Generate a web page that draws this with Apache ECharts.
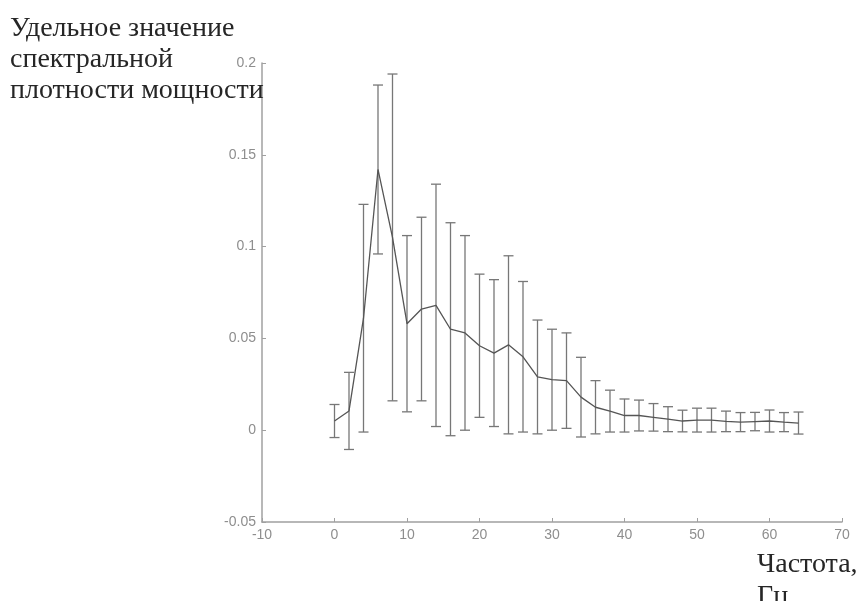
<!DOCTYPE html>
<html>
<head>
<meta charset="utf-8">
<script src="https://cdn.jsdelivr.net/npm/echarts@6/dist/echarts.min.js"></script>
<style>html,body{margin:0;padding:0;background:#fff}#c{width:859px;height:601px}</style>
</head>
<body>
<div id="c"></div>
<script>
var freq = [0,2,4,6,8,10,12,14,16,18,20,22,24,26,28,30,32,34,36,38,40,42,44,46,48,50,52,54,56,58,60,62,64];
var meanVal = [0.005,0.0105,0.061,0.142,0.105,0.058,0.066,0.068,0.055,0.053,0.046,0.042,0.0465,0.040,0.029,0.0275,0.027,0.018,0.0125,0.0104,0.008,0.008,0.007,0.006,0.005,0.0055,0.0055,0.0048,0.0044,0.0047,0.005,0.0044,0.0039];
var errVal = [0.009,0.021,0.062,0.046,0.089,0.048,0.050,0.066,0.058,0.053,0.039,0.040,0.0485,0.041,0.031,0.0275,0.026,0.0217,0.0145,0.0114,0.009,0.0084,0.0075,0.0068,0.0059,0.0065,0.0065,0.0056,0.0052,0.005,0.006,0.0052,0.006];
var yTicks = ['-0.05','0','0.05','0.1','0.15','0.2'];
var yTitle = 'Удельное значение\nспектральной\nплотности мощности';
var xTitle = 'Частота,\nГц';

var lineData = freq.map(function(f,i){return [f, meanVal[i]];});
var errData = freq.map(function(f,i){return [f, meanVal[i]-errVal[i], meanVal[i]+errVal[i]];});

var chart = echarts.init(document.getElementById('c'), null, {renderer:'canvas'});
var axisCol = '#a0a0a0';
var lblStyle = {color:'#8e8e8e', fontSize:14, fontFamily:'Liberation Sans'};
chart.setOption({
  animation:false,
  backgroundColor:'#fff',
  grid:{left:262, right:17, top:63, bottom:79},
  xAxis:{type:'value', min:-10, max:70, interval:10,
    axisLine:{show:true, onZero:false, lineStyle:{color:axisCol, width:1.5}},
    axisTick:{show:true, inside:true, length:4, lineStyle:{color:axisCol}},
    axisLabel:Object.assign({margin:6}, lblStyle),
    splitLine:{show:false}},
  yAxis:{type:'value', min:-0.05, max:0.2, interval:0.05,
    axisLine:{show:true, onZero:false, lineStyle:{color:axisCol, width:1.5}},
    axisTick:{show:true, inside:true, length:4, lineStyle:{color:axisCol}},
    axisLabel:Object.assign({margin:6, formatter:function(v){
      var idx = Math.round((v+0.05)/0.05); return yTicks[idx] !== undefined ? yTicks[idx] : '';
    }}, lblStyle),
    splitLine:{show:false}},
  graphic:[
    {type:'text', left:10, top:13, z:10, style:{text:yTitle, font:'28px "Liberation Serif"', fill:'#262626', lineHeight:31}},
    {type:'text', left:757, top:549, z:10, style:{text:xTitle, font:'28px "Liberation Serif"', fill:'#262626', lineHeight:32}}
  ],
  series:[
    {type:'custom', data:errData, z:2,
     renderItem:function(params, api){
       var x = api.value(0);
       var lo = api.coord([x, api.value(1)]);
       var hi = api.coord([x, api.value(2)]);
       var w = 5;
       var st = {stroke:'#777', lineWidth:1.3};
       return {type:'group', children:[
         {type:'line', shape:{x1:hi[0],y1:hi[1],x2:lo[0],y2:lo[1]}, style:st},
         {type:'line', shape:{x1:hi[0]-w,y1:hi[1],x2:hi[0]+w,y2:hi[1]}, style:st},
         {type:'line', shape:{x1:lo[0]-w,y1:lo[1],x2:lo[0]+w,y2:lo[1]}, style:st}
       ]};
     }},
    {type:'line', data:lineData, symbol:'none', z:3,
     lineStyle:{color:'#555', width:1.3}}
  ]
});
</script>
</body>
</html>
